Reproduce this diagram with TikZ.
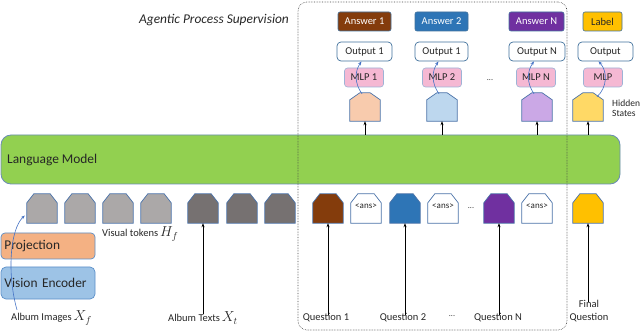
\documentclass[tikz,border=0pt]{standalone}
\usepackage{fontspec}
\setmainfont{Carlito}
\usetikzlibrary{arrows.meta}
\definecolor{txt}{HTML}{262626}
\definecolor{lmgreen}{HTML}{92D050}
\definecolor{lmedge}{HTML}{6A8CB4}
\definecolor{tokedge}{HTML}{4A72A8}
\definecolor{vgray}{HTML}{ABA8A8}
\definecolor{dgray}{HTML}{767171}
\definecolor{qbrown}{HTML}{843C0C}
\definecolor{qblue}{HTML}{2E75B6}
\definecolor{qpurple}{HTML}{7030A0}
\definecolor{qyellow}{HTML}{FFC000}
\definecolor{hbrown}{HTML}{F8CBAD}
\definecolor{hblue}{HTML}{BDD7EE}
\definecolor{hpurple}{HTML}{CBA8E6}
\definecolor{hyellow}{HTML}{FFD966}
\definecolor{mlppink}{HTML}{F5B8D3}
\definecolor{mlpedge}{HTML}{9DB3D6}
\definecolor{outedge}{HTML}{41719C}
\definecolor{projfill}{HTML}{F4B183}
\definecolor{visfill}{HTML}{9DC3E6}
\definecolor{visedge}{HTML}{5B8FC9}
\definecolor{curveblue}{HTML}{4472C4}
\definecolor{boxedge}{HTML}{444444}
\tikzset{
  lbl/.style={text=txt, inner sep=0pt, font=\fontsize{10.5}{13}\selectfont},
  bigtxt/.style={font=\fontsize{13.4}{15}\selectfont},
  ansbox/.style={rounded corners=2pt, draw=outedge, line width=0.6pt, minimum height=19pt, inner sep=0pt, text=white, font=\fontsize{10.5}{12}\selectfont},
  outbox/.style={rounded corners=4pt, draw=outedge, fill=white, line width=0.7pt, minimum width=55pt, minimum height=19pt, inner sep=0pt, text=txt, font=\fontsize{10.5}{12}\selectfont},
  mlpbox/.style={rounded corners=3pt, draw=mlpedge, fill=mlppink, line width=0.6pt, minimum width=39pt, minimum height=19pt, inner sep=0pt, text=txt, font=\fontsize{10.5}{12}\selectfont},
  uparrow/.style={-{Stealth[length=4pt,width=3pt]}, line width=0.6pt, draw=black},
  curvearrow/.style={-{Stealth[length=4pt,width=3pt]}, draw=curveblue, line width=0.6pt},
  tokenedge/.style={draw=tokedge, line width=0.7pt},
}
% token: name, center, fill, text
\newcommand\tokn[4]{%
  \node[minimum width=30pt,minimum height=29pt,inner sep=0pt] (#1) at (#2) {};
  \draw[tokenedge, fill=#3] (#1.south west) -- ([yshift=-9pt]#1.north west) -- ([xshift=7pt]#1.north west) -- ([xshift=-7pt]#1.north east) -- ([yshift=-9pt]#1.north east) -- (#1.south east) -- cycle;
  \node[text=txt, inner sep=0pt, font=\fontsize{9}{10}\selectfont] (#1-l) at ([yshift=2pt]#1.center) {#4};
}
% hidden state: name, center, fill
\newcommand\hid[3]{%
  \node[minimum width=30pt,minimum height=28pt,inner sep=0pt] (#1) at (#2) {};
  \draw[tokenedge, fill=#3] (#1.south west) -- ([yshift=-7pt]#1.north west) -- ([xshift=10pt]#1.north west) -- ([xshift=-10pt]#1.north east) -- ([yshift=-7pt]#1.north east) -- (#1.south east) -- cycle;
}
\begin{document}
\begin{tikzpicture}[x=1pt,y=-1pt]
\useasboundingbox (0,0) rectangle (640,331);

% Language model
\node[draw=lmedge, fill=lmgreen, line width=0.8pt, rounded corners=10pt, minimum width=619pt, minimum height=49pt, inner sep=0pt] (lm) at (310.5,159.5) {};
\node[anchor=west, text=txt, inner sep=0pt, bigtxt] (lmt) at (7,160) {Language Model};

% Agentic process supervision box
\node[draw=boxedge, densely dotted, line width=0.6pt, rounded corners=9pt, minimum width=269pt, minimum height=328pt, inner sep=0pt] (apsbox) at (432.5,166) {};
\node[text=txt, inner sep=0pt, font=\fontsize{13.4}{15}\selectfont\itshape] (apst) at (214,20) {Agentic Process Supervision};

% Projection and vision encoder
\node[draw=visedge, fill=projfill, line width=0.7pt, rounded corners=4pt, minimum height=26pt, text width=87pt, inner xsep=3.5pt, inner ysep=0pt, align=left, text=txt, bigtxt] (proj) at (48,246) {Projection};
\node[draw=visedge, fill=visfill, line width=0.7pt, rounded corners=5pt, minimum height=32pt, text width=87pt, inner xsep=3.5pt, inner ysep=0pt, align=left, text=txt, bigtxt] (venc) at (48,283) {Vision Encoder};

% input tokens
\tokn{v1}{42,208.5}{vgray}{}
\tokn{v2}{80,208.5}{vgray}{}
\tokn{v3}{118,208.5}{vgray}{}
\tokn{v4}{156,208.5}{vgray}{}
\tokn{d1}{203,208.5}{dgray}{}
\tokn{d2}{242,208.5}{dgray}{}
\tokn{d3}{280,208.5}{dgray}{}
\tokn{q1}{328,208.5}{qbrown}{}
\tokn{a1}{366,208.5}{white}{\textless ans\textgreater}
\tokn{q2}{405,208.5}{qblue}{}
\tokn{a2}{443,208.5}{white}{\textless ans\textgreater}
\tokn{q3}{499,208.5}{qpurple}{}
\tokn{a3}{537,208.5}{white}{\textless ans\textgreater}
\tokn{qf}{588,208.5}{qyellow}{}
\node[lbl, font=\fontsize{8}{9}\selectfont] (dots1) at (471,208) {...};

% bottom labels
\node[lbl, anchor=west] (vt) at (102,234) {Visual tokens\hspace{2pt}{\fontsize{14}{15}\selectfont$H_f$}};
\node[lbl, anchor=west] (ai) at (11,318) {Album Images\hspace{2pt}{\fontsize{14}{15}\selectfont$X_f$}};
\node[lbl] (at) at (203,318) {Album Texts\hspace{2pt}{\fontsize{14}{15}\selectfont$X_t$}};
\node[lbl] (ql1) at (326,318) {Question 1};
\node[lbl] (ql2) at (403,318) {Question 2};
\node[lbl, font=\fontsize{8}{9}\selectfont] (dots2) at (452,316) {...};
\node[lbl] (ql3) at (498,318) {Question N};
\node[lbl, align=center] (qlf) at (589,311.5) {Final\\Question};

% upward arrows from labels
\draw[uparrow] ([yshift=-2pt]d1.south |- at.north) -- (d1.south);
\draw[uparrow] ([yshift=-2pt]q1.south |- ql1.north) -- (q1.south);
\draw[uparrow] ([yshift=-2pt]q2.south |- ql2.north) -- (q2.south);
\draw[uparrow] ([yshift=-2pt]q3.south |- ql3.north) -- (q3.south);
\draw[uparrow] ([yshift=-2pt]qf.south |- qlf.north) -- (qf.south);

% vision curve
\draw[curvearrow] ([xshift=6pt,yshift=1pt]ai.north west) .. controls +(-10,-35) and +(-15,14) .. ([xshift=-2pt,yshift=-7pt]v1.west);

% hidden states
\hid{h1}{365,107}{hbrown}
\hid{h2}{442,107}{hblue}
\hid{h3}{537,107}{hpurple}
\hid{h4}{588,107}{hyellow}
\draw[uparrow] (h1.south |- lm.north) -- (h1.south);
\draw[uparrow] (h2.south |- lm.north) -- (h2.south);
\draw[uparrow] (h3.south |- lm.north) -- (h3.south);
\draw[uparrow] (h4.south |- lm.north) -- (h4.south);
\node[lbl, anchor=west, align=left, font=\fontsize{9.5}{10.5}\selectfont] (hst) at (612,108) {Hidden\\States};

% MLPs
\node[mlpbox] (m1) at (364,77.5) {MLP 1};
\node[mlpbox] (m2) at (442,77.5) {MLP 2};
\node[mlpbox] (m3) at (536,77.5) {MLP N};
\node[mlpbox] (m4) at (603,77.5) {MLP};
\node[lbl, font=\fontsize{8}{9}\selectfont] (dots3) at (490,80) {...};

% outputs
\node[outbox] (o1) at (364.5,51.5) {Output 1};
\node[outbox, minimum width=53pt] (o2) at (441.5,51.5) {Output 1};
\node[outbox, minimum width=56pt] (o3) at (537,51.5) {Output N};
\node[outbox] (o4) at (605.5,51.5) {Output};

% answers
\node[ansbox, fill=qbrown, minimum width=53pt] (r1) at (364.5,21.5) {Answer 1};
\node[ansbox, fill=qblue, minimum width=53pt] (r2) at (441.5,21.5) {Answer 2};
\node[ansbox, fill=qpurple, minimum width=55pt] (r3) at (536.5,21.5) {Answer N};
\node[ansbox, fill=qyellow, minimum width=39pt, text=txt] (r4) at (602.5,21.5) {Label};

% curved arrows hidden -> output
\draw[curvearrow] ([xshift=-3pt,yshift=-1pt]h1.north) to[bend left=35] ([xshift=-3pt]o1.south);
\draw[curvearrow] ([xshift=-3pt,yshift=-1pt]h2.north) to[bend left=35] ([xshift=-3pt]o2.south);
\draw[curvearrow] ([xshift=-3pt,yshift=-1pt]h3.north) to[bend left=35] ([xshift=-3pt]o3.south);
\draw[curvearrow] ([xshift=9pt,yshift=-4pt]h4.north) to[bend right=45] ([xshift=-7pt]o4.south);
\end{tikzpicture}
\end{document}
